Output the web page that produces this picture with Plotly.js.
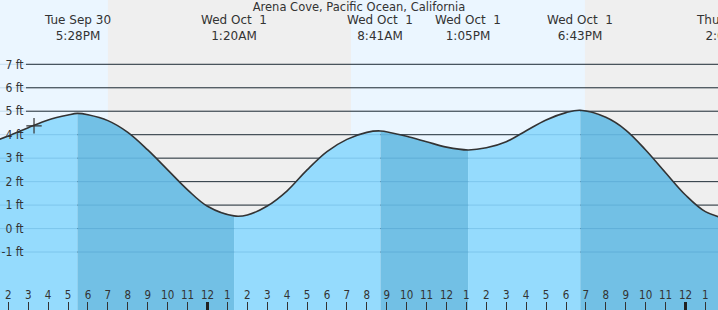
<!DOCTYPE html>
<html>
<head>
<meta charset="utf-8">
<script src="https://cdn.plot.ly/plotly-3.0.1.min.js"></script>
<style>html,body{margin:0;padding:0;background:#fff}#chart{width:718px;height:310px}</style>
</head>
<body>
<div id="chart"></div>
<script>
// Hours counted from Tue Sep 30 00:00 (24 = midnight Wed Oct 1)
const hours = [13,14,15,16,17,18,19,20,21,22,23,24,25,26,27,28,29,30,31,32,33,34,35,36,37,38,39,40,41,42,43,44,45,46,47,48,49,50];
const hourHeights = [3.65,3.94,4.30,4.63,4.84,4.85,4.60,4.10,3.35,2.50,1.65,0.95,0.58,0.58,0.96,1.61,2.50,3.28,3.80,4.10,4.14,3.93,3.70,3.47,3.35,3.44,3.70,4.17,4.63,4.94,5.02,4.74,4.20,3.35,2.38,1.43,0.72,0.42];

const eventHours = [17.467, 25.333, 32.683, 37.083, 42.717, 50.133];
const eventHeights = [4.91, 0.54, 4.16, 3.35, 5.04, 0.40];
const eventDates = ['Tue Sep 30', 'Wed Oct\u00a0 1', 'Wed Oct\u00a0 1', 'Wed Oct\u00a0 1', 'Wed Oct\u00a0 1', 'Thu Oct\u00a0 2'];
const eventTimes = ['5:28PM', '1:20AM', '8:41AM', '1:05PM', '6:43PM', '2:08AM'];

const tickHours = [14,15,16,17,18,19,20,21,22,23,24,25,26,27,28,29,30,31,32,33,34,35,36,37,38,39,40,41,42,43,44,45,46,47,48,49];
const tickLabels = ['2','3','4','5','6','7','8','9','10','11','12','1','2','3','4','5','6','7','8','9','10','11','12','1','2','3','4','5','6','7','8','9','10','11','12','1'];
const midnightHours = [24, 48];

const nightStarts = [19.0, 42.95];
const nightEnds = [31.2, 52];

const yTicks = [-1,0,1,2,3,4,5,6,7];
const yTickLabels = ['-1 ft','0 ft','1 ft','2 ft','3 ft','4 ft','5 ft','6 ft','7 ft'];

const nowHour = [15.29];
const nowHeight = [4.38];

const title = 'Arena Cove, Pacific Ocean, California';

// ---- build ----
const X_RANGE = [13.582, 49.632];
const Y_RANGE = [-3.47, 9.74];
const BOTTOM = -10;
const DAY_BG = '#EBF6FF';
const NIGHT_BG = '#EFEFEF';
const FLOOD = '#95DBFD';
const EBB = '#72C0E5';
const FONT = 'DejaVu Sans, Verdana, sans-serif';
const COND = 'DejaVu Sans Condensed, DejaVu Sans, sans-serif';
const xPaper = h => (h - X_RANGE[0]) / (X_RANGE[1] - X_RANGE[0]);

// hourly readings (skipping those very close to a tide event) plus the events themselves
const pts = hours.map((h, i) => ({x: h, y: hourHeights[i]}))
  .filter(p => eventHours.every(e => Math.abs(e - p.x) >= 0.45))
  .concat(eventHours.map((h, i) => ({x: h, y: eventHeights[i]})))
  .sort((a, b) => a.x - b.x);

const first = pts[0].x, last = pts[pts.length-1].x;
const bounds = [first].concat(eventHours.filter(h => h > first && h < last)).concat([last]);

const traces = [];
for (let i = 0; i < bounds.length - 1; i++) {
  const a = bounds[i], b = bounds[i+1];
  const seg = pts.filter(p => p.x >= a - 1e-9 && p.x <= b + 1e-9);
  const rising = seg[seg.length-1].y > seg[0].y;
  traces.push({x: [a, b], y: [BOTTOM, BOTTOM], mode: 'lines', line: {width: 0}, hoverinfo: 'skip', showlegend: false});
  traces.push({x: seg.map(p => p.x), y: seg.map(p => p.y), mode: 'lines', line: {width: 0, shape: 'spline', smoothing: 1},
    fill: 'tonexty', fillcolor: rising ? FLOOD : EBB, hoverinfo: 'skip', showlegend: false});
}
traces.push({x: pts.map(p => p.x), y: pts.map(p => p.y), mode: 'lines',
  line: {color: '#333', width: 1.6, shape: 'spline', smoothing: 1}, hoverinfo: 'skip', showlegend: false});
traces.push({x: nowHour, y: nowHeight, mode: 'markers',
  marker: {symbol: 'cross-thin', size: 11, line: {color: '#333', width: 1.2}}, hoverinfo: 'skip', showlegend: false});
// holder for the midnight (thick tick) axis
traces.push({x: midnightHours, y: [BOTTOM, BOTTOM], xaxis: 'x2', mode: 'markers', marker: {opacity: 0}, hoverinfo: 'skip', showlegend: false});

const shapes = [];
nightStarts.forEach((s, i) => shapes.push({type: 'rect', xref: 'x', yref: 'paper', x0: s, x1: nightEnds[i], y0: 0, y1: 1,
  fillcolor: NIGHT_BG, line: {width: 0}, layer: 'below'}));
yTicks.forEach(v => shapes.push({type: 'line', xref: 'paper', yref: 'y', x0: 26/718, x1: 1, y0: v, y1: v,
  line: {color: '#2e2e2e', width: 1}, layer: 'below'}));
yTicks.forEach(v => shapes.push({type: 'line', xref: 'paper', yref: 'y', x0: 0, x1: 1, y0: v, y1: v,
  line: {color: 'rgba(0,90,150,0.16)', width: 1}, layer: 'above'}));

const annotations = eventHours.map((h, i) => ({
  x: xPaper(h), xref: 'paper', y: 1 - 27.5/310, yref: 'paper', text: eventDates[i] + '<br>' + eventTimes[i],
  showarrow: false, xanchor: 'center', yanchor: 'middle', align: 'center',
  font: {family: FONT, size: 12, color: '#333'}
}));

const layout = {
  width: 718, height: 310,
  margin: {l: 0, r: 0, t: 0, b: 0, pad: 0},
  paper_bgcolor: DAY_BG, plot_bgcolor: DAY_BG,
  showlegend: false,
  title: {text: title, x: 0.5, xref: 'paper', xanchor: 'center', y: 1 - 7/310, yref: 'container', yanchor: 'middle',
    font: {family: FONT, size: 11.5, color: '#333'}, pad: {t: 0, b: 0, l: 0, r: 0}},
  xaxis: {range: X_RANGE, tickvals: tickHours, ticktext: tickLabels, ticks: 'inside', ticklen: 8, tickwidth: 1, tickcolor: '#333',
    ticklabelposition: 'inside', showgrid: false, zeroline: false, showline: false, fixedrange: true,
    tickfont: {family: COND, size: 11.5, color: '#333'}},
  xaxis2: {overlaying: 'x', matches: 'x', anchor: 'y', tickvals: midnightHours, ticks: 'inside', ticklen: 8, tickwidth: 3,
    tickcolor: '#222', showticklabels: false, showgrid: false, zeroline: false, showline: false},
  yaxis: {range: Y_RANGE, tickvals: yTicks, ticktext: yTickLabels, anchor: 'free', position: 23.5/718, side: 'left',
    ticks: '', showgrid: false, zeroline: false, showline: false, fixedrange: true,
    tickfont: {family: COND, size: 12, color: '#333'}},
  shapes: shapes,
  annotations: annotations
};

Plotly.newPlot('chart', traces, layout, {staticPlot: true, displayModeBar: false});
</script>
</body>
</html>
